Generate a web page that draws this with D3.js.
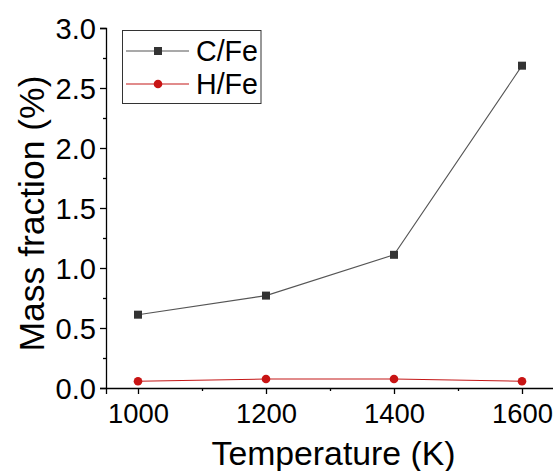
<!DOCTYPE html>
<html><head><meta charset="utf-8">
<script src="https://cdn.jsdelivr.net/npm/d3@7"></script>
<style>body{margin:0;background:#fff}svg{display:block}</style>
</head><body>
<svg id="c" width="553" height="471"></svg>
<script>
const temperatures = [1000, 1200, 1400, 1600];
const cFe = [0.611, 0.77, 1.11, 2.686];
const hFe = [0.056, 0.075, 0.075, 0.056];
const xTicks = [1000, 1200, 1400, 1600];
const xMinorTicks = [1100, 1300, 1500];
const yTicks = [0, 0.5, 1.0, 1.5, 2.0, 2.5, 3.0];
const yMinorTicks = [0.25, 0.75, 1.25, 1.75, 2.25, 2.75];
const seriesNames = ["C/Fe", "H/Fe"];

const svg = d3.select("#c");
const font = "Liberation Sans, Arial, sans-serif";
const x = d3.scaleLinear().domain([950, 1650]).range([106, 554]);
const y = d3.scaleLinear().domain([0, 3.0]).range([388, 28]);

function fitSize(sample, target, base) {
  const t = svg.append("text").attr("font-family", font).attr("font-size", base).text(sample);
  const w = t.node().getComputedTextLength();
  t.remove();
  return base * target / w;
}
const xTickFont = fitSize("1000", 61, 26);
const yTickFont = fitSize("3.0", 40.5, 26);

const xAxis = svg.append("g").attr("transform", "translate(0,388)")
  .call(d3.axisBottom(x).tickValues(xTicks).tickFormat(d3.format("d")).tickSize(6).tickPadding(9));
const xMinor = svg.append("g").attr("transform", "translate(0,388)")
  .call(d3.axisBottom(x).tickValues(xMinorTicks).tickFormat("").tickSize(3));
const yAxis = svg.append("g").attr("transform", "translate(106,0)")
  .call(d3.axisLeft(y).tickValues(yTicks).tickFormat(d3.format(".1f")).tickSize(6).tickPadding(4));
const yMinor = svg.append("g").attr("transform", "translate(106,0)")
  .call(d3.axisLeft(y).tickValues(yMinorTicks).tickFormat("").tickSize(3));
[xAxis, xMinor, yAxis, yMinor].forEach(g => {
  g.selectAll("path.domain").attr("stroke", "#000").attr("stroke-width", 1.3);
  g.selectAll("line").attr("stroke", "#000").attr("stroke-width", 1.3);
  g.selectAll("text").attr("font-family", font).attr("fill", "#000");
});
xAxis.selectAll("text").attr("font-size", xTickFont);
yAxis.selectAll("text").attr("font-size", yTickFont);
xMinor.select("path.domain").remove();
yMinor.select("path.domain").remove();
xAxis.selectAll("text").attr("dy", null).attr("y", 35);
yAxis.selectAll("text").attr("dy", "0.36em");

svg.append("text").attr("x", 333.5).attr("y", 465).attr("text-anchor", "middle")
  .attr("font-family", font).attr("font-size", fitSize("Temperature (K)", 244, 30)).text("Temperature (K)");
svg.append("text").attr("transform", "translate(44,213.5) rotate(-90)").attr("text-anchor", "middle")
  .attr("font-family", font).attr("font-size", fitSize("Mass fraction (%)", 276, 30)).text("Mass fraction (%)");

const line = d3.line().x((d, i) => x(temperatures[i])).y(d => y(d));
svg.append("path").datum(cFe).attr("d", line).attr("fill", "none").attr("stroke", "#555").attr("stroke-width", 1.1);
svg.append("path").datum(hFe).attr("d", line).attr("fill", "none").attr("stroke", "#c41818").attr("stroke-width", 1.1);

svg.selectAll(".sq").data(cFe).enter().append("rect")
  .attr("x", (d, i) => x(temperatures[i]) - 4).attr("y", d => y(d) - 4)
  .attr("width", 8).attr("height", 8).attr("fill", "#333");
svg.selectAll(".ci").data(hFe).enter().append("circle")
  .attr("cx", (d, i) => x(temperatures[i])).attr("cy", d => y(d)).attr("r", 4.3).attr("fill", "#c81414");

const lg = svg.append("g");
lg.append("rect").attr("x", 122.5).attr("y", 30.5).attr("width", 138.5).attr("height", 73)
  .attr("fill", "#fff").attr("stroke", "#333").attr("stroke-width", 1);
const lgFont = fitSize("C/Fe", 62, 28);
const lgItems = [
  {name: seriesNames[0], color: "#555", mk: "sq", fill: "#333", yy: 51},
  {name: seriesNames[1], color: "#c41818", mk: "ci", fill: "#c81414", yy: 84}
];
lgItems.forEach(it => {
  lg.append("line").attr("x1", 126).attr("x2", 189).attr("y1", it.yy).attr("y2", it.yy)
    .attr("stroke", it.color).attr("stroke-width", 1.1);
  if (it.mk === "sq") lg.append("rect").attr("x", 154).attr("y", it.yy - 4).attr("width", 8).attr("height", 8).attr("fill", it.fill);
  else lg.append("circle").attr("cx", 158).attr("cy", it.yy).attr("r", 4.3).attr("fill", it.fill);
  lg.append("text").attr("x", 196).attr("y", it.yy + 10).attr("font-family", font).attr("font-size", lgFont).text(it.name);
});
</script>
</body></html>
